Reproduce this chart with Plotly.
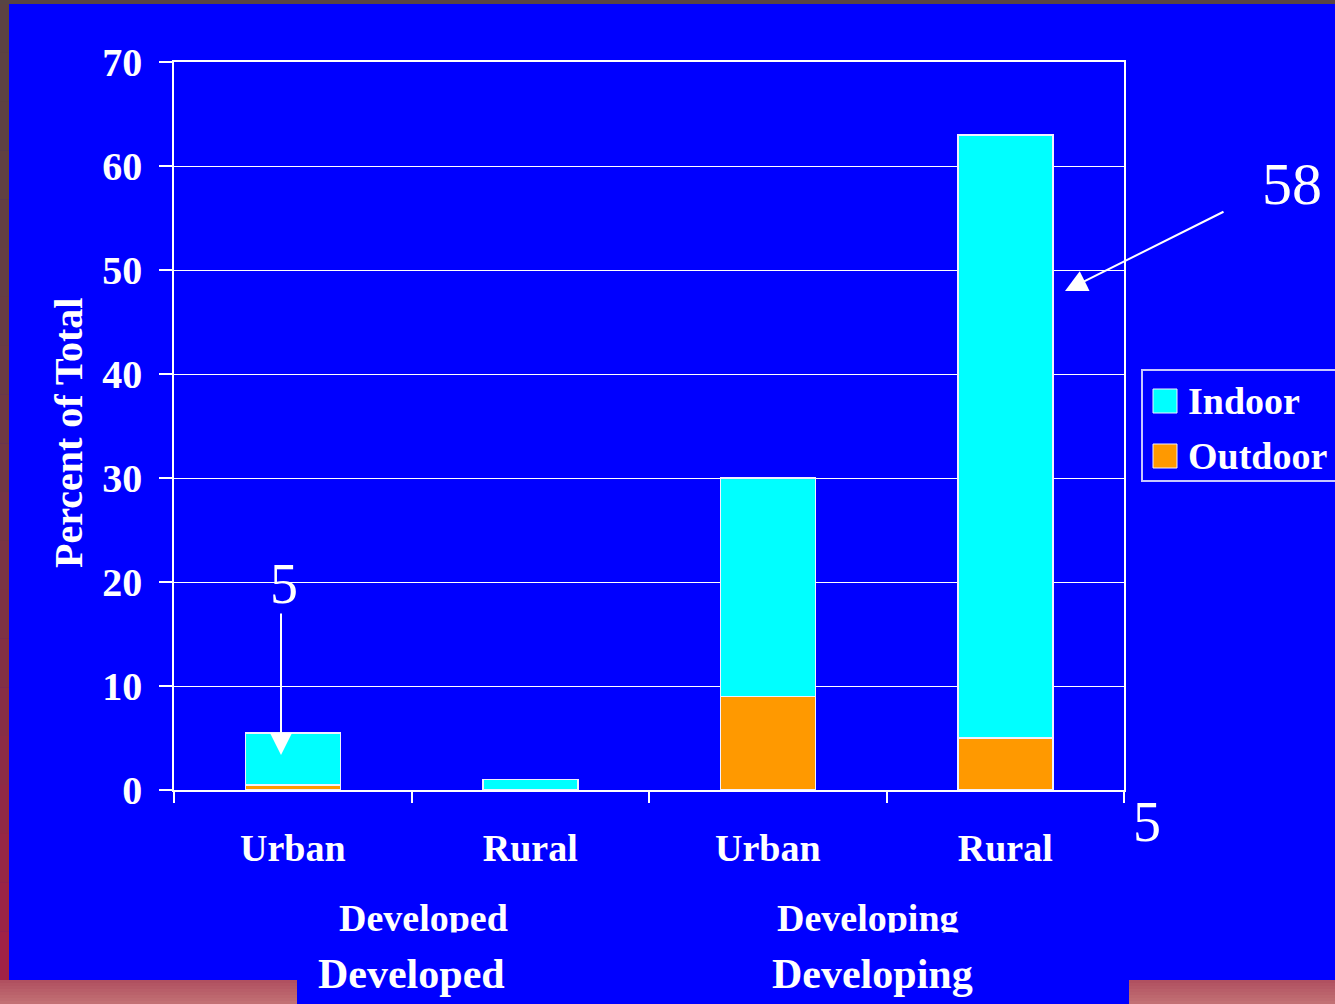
import plotly.graph_objects as go

# ---------------- data ----------------
groups = ["Developed", "Developed", "Developing", "Developing"]
settings = ["Urban", "Rural", "Urban", "Rural"]
indoor = [5.0, 1.0, 21.0, 58.0]
outdoor = [0.5, 0.0, 9.0, 5.0]
series_names = ["Indoor", "Outdoor"]
y_ticks = [0, 10, 20, 30, 40, 50, 60, 70]
callouts = ["5", "58", "5"]
group_labels = ["Developed", "Developing"]
y_title = "Percent of Total"

# ---------------- style ----------------
W, H = 1335, 1004
L, R, T, B = 174, 1124, 62, 790


def px(x):
    return (x - L) / (R - L)


def py(y):
    return (B - y) / (B - T)


BLUE = "#0000FF"
CYAN = "#00FFFF"
ORANGE = "#FF9900"
WHITE = "#FFFFFF"
FONT = "Liberation Serif, Times New Roman, serif"

cats = [f"{g} {s}" for g, s in zip(groups, settings)]

fig = go.Figure()
fig.add_bar(x=cats, y=outdoor, name=series_names[1],
            marker=dict(color=ORANGE, line=dict(color="#F0F0FF", width=1.5)),
            showlegend=False, hoverinfo="skip")
fig.add_bar(x=cats, y=indoor, name=series_names[0],
            marker=dict(color=CYAN, line=dict(color="#F0F0FF", width=1.5)),
            showlegend=False, hoverinfo="skip")

bold = lambda s: dict(family=FONT, size=s, color=WHITE, weight=700)
plain = lambda s: dict(family=FONT, size=s, color=WHITE)

fig.update_layout(
    width=W, height=H,
    margin=dict(l=L, r=W - R, t=T, b=H - B, pad=0),
    paper_bgcolor=BLUE, plot_bgcolor=BLUE,
    barmode="stack", bargap=0.6,
    showlegend=False,
    xaxis=dict(type="category", tickmode="array", tickvals=cats, ticktext=settings,
               tickson="boundaries", ticks="outside", ticklen=11, tickwidth=1.5,
               tickcolor=WHITE, showline=True, linecolor=WHITE, linewidth=1.5,
               mirror=True, showgrid=False, tickfont=bold(38),
               ticklabelstandoff=24, range=[-0.5, 3.5]),
    yaxis=dict(range=[0, 70], tickmode="array", tickvals=y_ticks,
               showgrid=True, gridcolor=WHITE, gridwidth=1, zeroline=False,
               ticks="outside", ticklen=13, tickwidth=1.5, tickcolor=WHITE,
               showline=True, linecolor=WHITE, linewidth=1.5, mirror=True,
               tickfont=bold(40), ticklabelstandoff=9),
)

shapes = []
# frame: top strip
shapes.append(dict(type="rect", xref="paper", yref="paper", x0=px(0), x1=px(W),
                   y0=py(4), y1=py(0), fillcolor="#584444", line=dict(width=0)))
# frame: left strip gradient
n = 20
c0 = (92, 66, 66)
c1 = (160, 34, 70)
for i in range(n):
    t = (i / (n - 1)) ** 1.5
    c = tuple(int(round(a + (b - a) * t)) for a, b in zip(c0, c1))
    y0 = 4 + (980 - 4) * i / n
    y1 = 4 + (980 - 4) * (i + 1) / n
    shapes.append(dict(type="rect", xref="paper", yref="paper", x0=px(0), x1=px(9),
                       y0=py(y1 + 0.5), y1=py(y0), fillcolor="rgb(%d,%d,%d)" % c,
                       line=dict(width=0)))
# frame: bottom strips gradient
b0 = (176, 80, 96)
b1 = (194, 112, 116)
m = 8
for i in range(m):
    t = i / (m - 1)
    c = tuple(int(round(a + (b - a) * t)) for a, b in zip(b0, b1))
    y0 = 980 + 24 * i / m
    y1 = 980 + 24 * (i + 1) / m
    for xa, xb in [(0, 297), (1129, W)]:
        shapes.append(dict(type="rect", xref="paper", yref="paper", x0=px(xa), x1=px(xb),
                           y0=py(y1 + 0.5), y1=py(y0), fillcolor="rgb(%d,%d,%d)" % c,
                           line=dict(width=0)))
# legend box and swatches
shapes.append(dict(type="rect", xref="paper", yref="paper", x0=px(1142), x1=px(1350),
                   y0=py(481), y1=py(370), fillcolor=BLUE,
                   line=dict(color="#C8C8FF", width=2)))
for (y_top, col) in [(389, CYAN), (444, ORANGE)]:
    shapes.append(dict(type="rect", xref="paper", yref="paper", x0=px(1153), x1=px(1177),
                       y0=py(y_top + 24), y1=py(y_top), fillcolor=col,
                       line=dict(color="#F0F0FF", width=1)))

ann = []
# y axis title
ann.append(dict(text=y_title, xref="paper", yref="paper", x=px(68), y=py(433),
                xanchor="center", yanchor="middle", textangle=-90, showarrow=False,
                font=bold(40)))
# legend labels
for name, yc in zip(series_names, [401, 456]):
    ann.append(dict(text=name, xref="paper", yref="paper", x=px(1186), y=py(yc),
                    xanchor="left", yanchor="middle", showarrow=False, font=bold(38)))
# group labels, second row (clipped) and third row
ann.append(dict(text=group_labels[0], xref="paper", yref="paper", x=px(423), y=py(918),
                xanchor="center", yanchor="middle", showarrow=False, font=bold(38)))
ann.append(dict(text=group_labels[1], xref="paper", yref="paper", x=px(868), y=py(918),
                xanchor="center", yanchor="middle", showarrow=False, font=bold(38)))
# cover that clips the second-row labels
ann.append(dict(text=" ", xref="paper", yref="paper", x=px(650), y=py(932),
                xanchor="center", yanchor="top", showarrow=False, width=700, height=22,
                bgcolor=BLUE, borderpad=0, font=plain(10)))
ann.append(dict(text=group_labels[0], xref="paper", yref="paper", x=px(411), y=py(974),
                xanchor="center", yanchor="middle", showarrow=False, font=bold(42)))
ann.append(dict(text=group_labels[1], xref="paper", yref="paper", x=px(872), y=py(974),
                xanchor="center", yanchor="middle", showarrow=False, font=bold(42)))
# callout numbers
for txt, cx, cy, fs in [(callouts[0], 284, 584, 56), (callouts[1], 1292, 184, 60),
                        (callouts[2], 1147, 822, 56)]:
    ann.append(dict(text=txt, xref="paper", yref="paper", x=px(cx), y=py(cy),
                    xanchor="center", yanchor="middle", showarrow=False, font=plain(fs)))
# arrows
ann.append(dict(text="", xref="paper", yref="paper", x=px(281), y=py(755),
                ax=0, ay=612 - 755, showarrow=True, arrowhead=2, arrowsize=2.2,
                arrowwidth=2, arrowcolor=WHITE))
ann.append(dict(text="", xref="paper", yref="paper", x=px(1065), y=py(291),
                ax=1225 - 1065, ay=211 - 291, showarrow=True, arrowhead=2, arrowsize=2.2,
                arrowwidth=2, arrowcolor=WHITE))

fig.update_layout(shapes=shapes, annotations=ann)

fig.write_html("out.html", config=dict(displayModeBar=False))
